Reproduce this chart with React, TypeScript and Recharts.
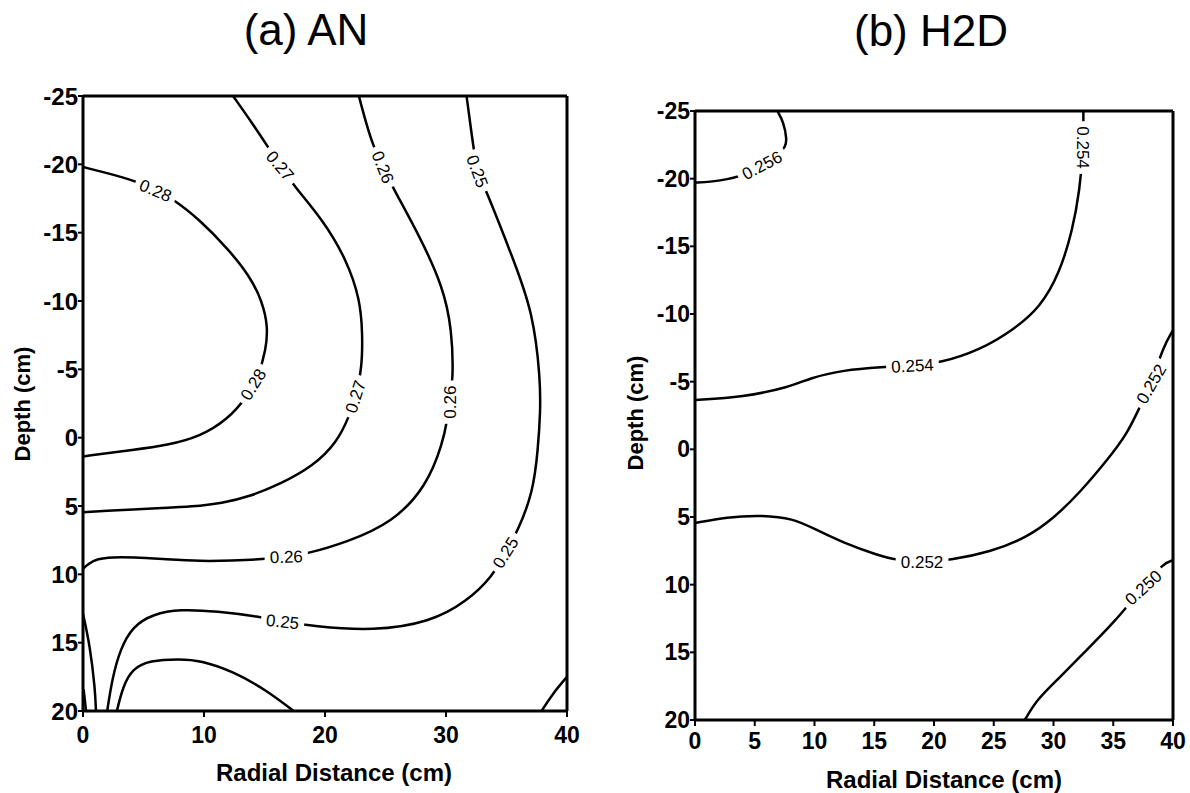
import React from 'react';
import { ComposedChart, Line, Scatter, XAxis, YAxis, ReferenceLine } from 'recharts';

const FONT = '"Liberation Sans", Arial, Helvetica, sans-serif';

// axis ticks
const xTicksAN = [0, 10, 20, 30, 40];
const xTicksH2D = [0, 5, 10, 15, 20, 25, 30, 35, 40];
const depthTicks = [-25, -20, -15, -10, -5, 0, 5, 10, 15, 20];

// (a) AN contours, [radial distance, depth]
const an028 = [[0, -19.8], [4.1, -18.9], [6.0, -18.1], [7.4, -17.5], [9.7, -15.9], [12.0, -13.8], [13.8, -11.8], [14.8, -10.0], [15.3, -8.1], [15.1, -6.4], [14.6, -4.8], [13.6, -3.0], [11.9, -1.3], [9.7, -0.1], [7.0, 0.55], [4.1, 0.9], [0, 1.37]];
const an027 = [[12.4, -25], [14.0, -23.0], [15.45, -21.05], [16.3, -19.9], [17.36, -18.5], [19.83, -15.94], [21.8, -13.0], [22.9, -10.1], [23.1, -7.7], [23.06, -5.0], [22.5, -3.0], [22.07, -1.7], [21.0, 0.35], [19.0, 2.1], [16.3, 3.4], [13.8, 4.3], [11.5, 4.8], [9.0, 5.05], [6.5, 5.15], [4.1, 5.25], [2.0, 5.35], [0, 5.46]];
const an026 = [[22.8, -25], [23.4, -23.0], [24.0, -21.3], [24.8, -19.8], [25.6, -18.3], [27.85, -14.7], [29.75, -11.05], [30.5, -7.9], [30.6, -4.25], [30.3, -2.6], [30.1, -1.33], [29.75, 0.35], [28.4, 3.56], [25.6, 6.2], [21.8, 7.65], [18.5, 8.5], [16.8, 8.7], [14.9, 8.9], [12.3, 9.0], [9.7, 9.04], [6.9, 8.9], [4.1, 8.75], [2.4, 8.75], [1.2, 8.85], [0.4, 9.25], [0, 9.6]];
const an025 = [[31.7, -25], [32.0, -23.0], [32.3, -21.05], [32.6, -19.5], [33.4, -17.9], [35.5, -13.2], [37.2, -9.15], [37.8, -4.25], [37.8, -1.85], [37.6, 0.86], [37.2, 4.0], [35.9, 6.9], [34.9, 8.4], [33.9, 10.1], [31.7, 12.0], [28.7, 13.5], [24.0, 14.15], [19.0, 13.8], [16.5, 13.45], [14.6, 13.1], [11.1, 12.7], [8.0, 12.55], [5.8, 12.9], [4.1, 13.8], [3.06, 15.5], [2.4, 17.7], [2.0, 20]];
const an024 = [[2.8, 20], [3.3, 18.2], [4.1, 16.9], [5.5, 16.3], [8.0, 16.2], [9.7, 16.3], [12.4, 17.1], [15.2, 18.5], [17.4, 20]];
const anEdge = [[0, 12.9], [0.58, 15.25], [1.0, 18.4], [1.07, 20]];
const anEdgeSmall = [[0.05, 18.4], [0.25, 20]];
const anCorner = [[37.9, 20], [38.8, 18.75], [40, 17.5]];

const anLabels = [
  { x: 6.0, d: -18.1, text: '0.28' },
  { x: 14.05, d: -3.9, text: '0.28' },
  { x: 16.3, d: -19.9, text: '0.27' },
  { x: 22.5, d: -3.0, text: '0.27' },
  { x: 24.8, d: -19.8, text: '0.26' },
  { x: 30.3, d: -2.6, text: '0.26' },
  { x: 16.8, d: 8.7, text: '0.26' },
  { x: 32.6, d: -19.5, text: '0.25' },
  { x: 34.9, d: 8.4, text: '0.25' },
  { x: 16.5, d: 13.45, text: '0.25' },
];
const anLabelAngles = [23, -58, 50, -72, 68, -90, -2, 70, -58, 6];

// (b) H2D contours
const h2d256 = [[6.9, -25], [7.4, -24.2], [7.7, -22.9], [7.55, -22.3], [7.1, -22.0], [5.6, -21.0], [3.8, -20.1], [1.26, -19.75], [0, -19.7]];
const h2d254 = [[0, -3.64], [4.0, -3.86], [7.95, -4.6], [9.6, -5.27], [12.4, -5.86], [15.7, -6.08], [18.2, -6.2], [20.5, -6.37], [23.85, -7.34], [26.6, -8.8], [28.9, -10.5], [30.5, -13.0], [31.6, -16.2], [32.2, -19.2], [32.5, -22.3], [32.5, -25]];
const h2d252 = [[0, 5.45], [2.7, 5.0], [5.4, 4.86], [8.2, 5.08], [10.2, 5.97], [12.4, 6.9], [15.2, 7.8], [16.9, 8.2], [19.0, 8.3], [21.3, 8.2], [24.7, 7.6], [27.8, 6.5], [30.0, 5.1], [32.2, 3.2], [34.5, 0.8], [36.2, -1.2], [37.2, -3.1], [38.16, -4.84], [39.2, -7.6], [40, -8.8]];
const h2d250 = [[27.6, 20], [28.6, 18.5], [30.3, 17.05], [32.8, 14.8], [35.0, 12.85], [37.5, 10.2], [39.2, 8.4], [40, 8.2]];

const h2dLabels = [
  { x: 5.6, d: -21.0, text: '0.256' },
  { x: 18.2, d: -6.2, text: '0.254' },
  { x: 32.5, d: -22.3, text: '0.254' },
  { x: 19.0, d: 8.3, text: '0.252' },
  { x: 38.16, d: -4.84, text: '0.252' },
  { x: 37.5, d: 10.2, text: '0.250' },
];
const h2dLabelAngles = [-28, -3, 90, 0, -60, -42];

const toPts = (arr: number[][]) => arr.map(([x, d]) => ({ x, d }));

const makeLabelShape = (angles: number[], labels: any[]) => (props: any) => {
  const { cx, cy, payload } = props;
  const idx = labels.findIndex((l) => l.x === payload.x && l.d === payload.d);
  const angle = angles[idx] ?? 0;
  const fs = 17;
  const w = payload.text.length * fs * 0.55 + 6;
  const h = fs * 0.95;
  return (
    <g transform={`translate(${cx},${cy}) rotate(${angle})`}>
      <rect x={-w / 2} y={-h / 2} width={w} height={h} fill="#fff" />
      <text x={0} y={0} dy="0.36em" textAnchor="middle" fontSize={fs} fontFamily={FONT} fill="#000">
        {payload.text}
      </text>
    </g>
  );
};

interface PanelProps {
  contours: number[][][];
  labels: any[];
  angles: number[];
  xTicks: number[];
  left: number;
  width: number;
  margin: { top: number; right: number; bottom: number; left: number };
  xTickFont: number;
  yTickFont: number;
  xTickMargin: number;
}

const ContourPanel: React.FC<PanelProps> = ({ contours, labels, angles, xTicks, left, width, margin, xTickFont, yTickFont, xTickMargin }) => {
  const tickStyle = (fs: number) => ({ fill: '#000', fontSize: fs, fontWeight: 'bold', fontFamily: FONT });
  return (
    <div style={{ position: 'absolute', left, top: 0 }}>
      <ComposedChart width={width} height={793} margin={margin}>
        <XAxis
          type="number"
          dataKey="x"
          domain={[0, 40]}
          ticks={xTicks}
          interval={0}
          allowDataOverflow
          height={60}
          tick={tickStyle(xTickFont)}
          tickSize={6}
          tickMargin={xTickMargin}
          tickLine={{ stroke: '#000', strokeWidth: 2 }}
          axisLine={{ stroke: '#000', strokeWidth: 3 }}
        />
        <YAxis
          type="number"
          dataKey="d"
          domain={[-25, 20]}
          reversed
          ticks={depthTicks}
          interval={0}
          allowDataOverflow
          width={60}
          tick={tickStyle(yTickFont)}
          tickSize={5}
          tickMargin={0}
          tickLine={{ stroke: '#000', strokeWidth: 2 }}
          axisLine={{ stroke: '#000', strokeWidth: 3 }}
        />
        <ReferenceLine y={-25} stroke="#000" strokeWidth={3} />
        <ReferenceLine x={40} stroke="#000" strokeWidth={3} />
        {contours.map((c, i) => (
          <Line
            key={i}
            data={toPts(c)}
            dataKey="d"
            type="basis"
            stroke="#000"
            strokeWidth={2.5}
            dot={false}
            activeDot={false}
            isAnimationActive={false}
          />
        ))}
        <Scatter data={labels} dataKey="d" shape={makeLabelShape(angles, labels)} isAnimationActive={false} />
      </ComposedChart>
    </div>
  );
};

export default function App() {
  return (
    <div style={{ position: 'absolute', left: 0, top: 0, width: 1190, height: 793, background: '#fff', fontFamily: FONT }}>
      <ContourPanel
        contours={[an028, an027, an026, an025, an024, anEdge, anEdgeSmall, anCorner]}
        labels={anLabels}
        angles={anLabelAngles}
        xTicks={xTicksAN}
        left={0}
        width={600}
        margin={{ top: 96, right: 33, bottom: 22, left: 23 }}
        xTickFont={23}
        yTickFont={24}
        xTickMargin={10}
      />
      <ContourPanel
        contours={[h2d256, h2d254, h2d252, h2d250]}
        labels={h2dLabels}
        angles={h2dLabelAngles}
        xTicks={xTicksH2D}
        left={600}
        width={590}
        margin={{ top: 111, right: 17, bottom: 13, left: 35 }}
        xTickFont={23}
        yTickFont={23}
        xTickMargin={7}
      />
      <svg width={1190} height={793} style={{ position: 'absolute', left: 0, top: 0, pointerEvents: 'none' }}>
        <text x={306} y={45} textAnchor="middle" fontSize={44} fontFamily={FONT}>(a) AN</text>
        <text x={931} y={46} textAnchor="middle" fontSize={44} fontFamily={FONT}>(b) H2D</text>
        <text x={334} y={781} textAnchor="middle" fontSize={24} fontWeight="bold" fontFamily={FONT}>Radial Distance (cm)</text>
        <text x={944} y={788} textAnchor="middle" fontSize={24} fontWeight="bold" fontFamily={FONT}>Radial Distance (cm)</text>
        <text transform="translate(30,404) rotate(-90)" textAnchor="middle" fontSize={22} fontWeight="bold" fontFamily={FONT}>Depth (cm)</text>
        <text transform="translate(643,413) rotate(-90)" textAnchor="middle" fontSize={22} fontWeight="bold" fontFamily={FONT}>Depth (cm)</text>
      </svg>
    </div>
  );
}
